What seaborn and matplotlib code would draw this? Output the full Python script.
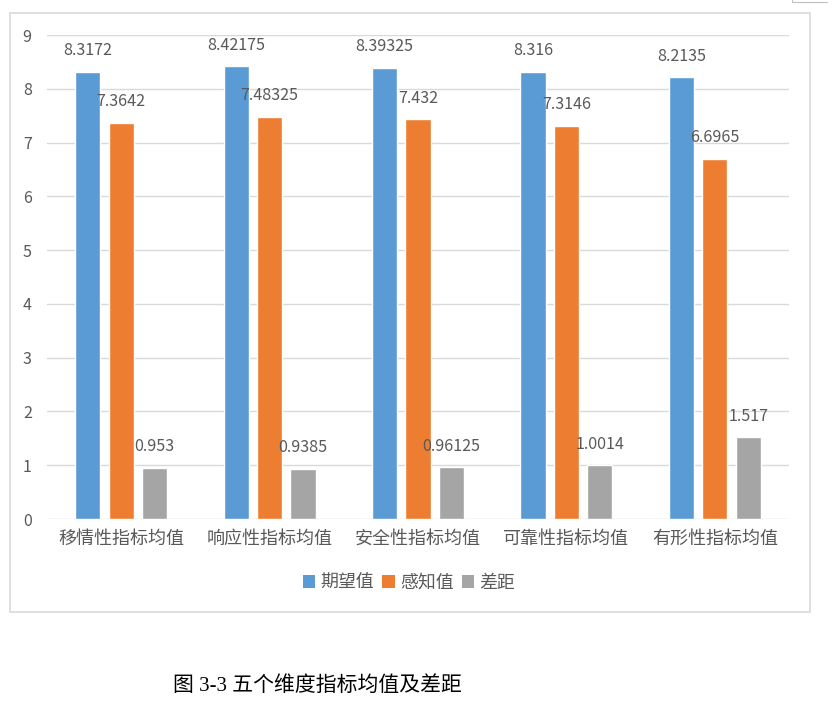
import matplotlib
matplotlib.use("Agg")
import matplotlib.pyplot as plt
from matplotlib.lines import Line2D
from matplotlib.patches import Rectangle
import seaborn as sns
import pandas as pd

categories = ["移情性指标均值", "响应性指标均值", "安全性指标均值", "可靠性指标均值", "有形性指标均值"]
series_names = ["期望值", "感知值", "差距"]
expected = [8.3172, 8.42175, 8.39325, 8.316, 8.2135]
perceived = [7.3642, 7.48325, 7.432, 7.3146, 6.6965]
gap_vals = [0.953, 0.9385, 0.96125, 1.0014, 1.517]
yticks = [0, 1, 2, 3, 4, 5, 6, 7, 8, 9]
caption = "图 3-3 五个维度指标均值及差距"

colors = ["#5B9BD5", "#ED7D31", "#A5A5A5"]
text_color = "#595959"

rows = []
for name, vals in zip(series_names, [expected, perceived, gap_vals]):
    for c, v in zip(categories, vals):
        rows.append({"cat": c, "series": name, "value": v})
df = pd.DataFrame(rows)

sns.set_theme(style="white")
plt.rcParams["font.family"] = ["Noto Sans CJK SC", "DejaVu Sans"]

W, H = 840, 701
fig = plt.figure(figsize=(W / 100, H / 100), dpi=100)
ax = fig.add_axes([47 / W, 1 - 519 / H, (789 - 47) / W, (519 - 35) / H])

sns.barplot(data=df, x="cat", y="value", hue="series", order=categories,
            hue_order=series_names, palette=colors, width=0.675, gap=0.24,
            saturation=1, ax=ax, legend=False)

ax.set_ylim(0, 9)
ax.set_xlim(-0.5, len(categories) - 0.5)
ax.set_yticks(yticks)
ax.set_yticklabels([str(t) for t in yticks])
ax.yaxis.grid(True, color="#D9D9D9", linewidth=1.0)
ax.set_axisbelow(True)
for s in ax.spines.values():
    s.set_visible(False)
ax.tick_params(axis="y", length=0, pad=11, labelsize=11.5, labelcolor=text_color)
ax.tick_params(axis="x", length=0, pad=8, labelsize=13, labelcolor=text_color)
ax.set_xlabel("")
ax.set_ylabel("")

for cont in ax.containers:
    for bar in cont:
        h = bar.get_height()
        ax.annotate(f"{h:g}", (bar.get_x() + bar.get_width() / 2, h),
                    xytext=(0, 21), textcoords="offset pixels",
                    ha="center", va="center", fontsize=11.6, color=text_color)

handles = [Rectangle((0, 0), 1, 1, facecolor=c, edgecolor="none") for c in colors]
fig.legend(handles, series_names, loc="center", bbox_to_anchor=(409 / W, 1 - 583 / H),
           ncol=3, frameon=False, fontsize=12.9, handlelength=0.7, handleheight=0.7,
           handletextpad=0.3, columnspacing=0.45, labelcolor=text_color)

# chart frame
fig.add_artist(Rectangle((10 / W, 1 - 612 / H), 800 / W, 599 / H, transform=fig.transFigure,
                         fill=False, edgecolor="#D9D9D9", linewidth=1.2))
fig.add_artist(Line2D([792 / W, 792 / W, 827 / W], [1.0, 1 - 2 / H, 1 - 2 / H],
                      transform=fig.transFigure, color="#BFBFBF", linewidth=0.8))

fig.text(173 / W, 1 - 686 / H, caption, ha="left", va="center", fontsize=15,
         family=["Liberation Serif", "Noto Sans CJK SC"], color="black")

fig.savefig("out.png", dpi=100, facecolor="white")
